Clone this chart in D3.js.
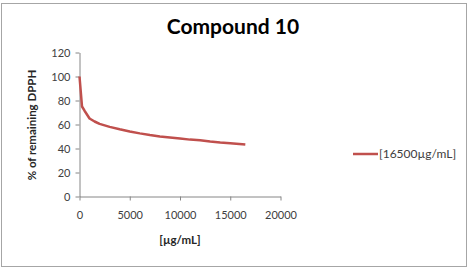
<!DOCTYPE html>
<html>
<head>
<meta charset="utf-8">
<script src="https://cdn.jsdelivr.net/npm/d3@7"></script>
<style>
  body { margin: 0; background: #fff; }
  svg { display: block; font-family: Lato, "Open Sans", sans-serif; }
  .axis path, .axis line { stroke: #868686; }
  .axis text { fill: #404040; font-size: 11px; }
</style>
</head>
<body>
<svg id="chart" width="469" height="268"></svg>
<script>
// concentration (µg/mL) and % of remaining DPPH
var conc = [0, 250, 500, 1000, 1500, 2000, 3000, 4000, 5000, 6000, 7000, 8000, 9000, 10000, 11000, 12000, 13000, 14000, 15000, 16500];
var remaining = [100, 75, 71.5, 65, 62.5, 60.5, 58, 56, 54.2, 52.6, 51.2, 50, 49.2, 48.4, 47.4, 46.8, 45.8, 45, 44.4, 43.4];
var xTicks = [0, 5000, 10000, 15000, 20000];
var yTicks = [0, 20, 40, 60, 80, 100, 120];
var seriesName = "[16500µg/mL]";

var svg = d3.select("#chart");
var width = +svg.attr("width"),
    height = +svg.attr("height");

// outer frame
svg.append("rect")
    .attr("x", 1.5).attr("y", 3.5)
    .attr("width", width - 4).attr("height", height - 5)
    .attr("fill", "none")
    .attr("stroke", "#a6a6a6");

var x = d3.scaleLinear().domain([0, 20000]).range([79.5, 280.5]);
var y = d3.scaleLinear().domain([0, 120]).range([196.5, 52.5]);

svg.append("g")
    .attr("class", "axis")
    .attr("transform", "translate(0," + y(0) + ")")
    .call(d3.axisBottom(x).tickValues(xTicks).tickFormat(d3.format("d")).tickSize(4).tickSizeOuter(0).tickPadding(11));

svg.append("g")
    .attr("class", "axis")
    .attr("transform", "translate(" + x(0) + ",0)")
    .call(d3.axisLeft(y).tickValues(yTicks).tickSize(4).tickSizeOuter(0).tickPadding(5));

svg.selectAll(".axis").attr("font-family", null).attr("font-size", null);

// the curve
var line = d3.line()
    .x(function(d, i){ return x(conc[i]); })
    .y(function(d){ return y(d); });

svg.append("path")
    .datum(remaining)
    .attr("d", line)
    .attr("fill", "none")
    .attr("stroke", "#c0504d")
    .attr("stroke-width", 2.5)
    .attr("stroke-linejoin", "round");

// title and axis labels
svg.append("text")
    .attr("x", 233).attr("y", 34)
    .attr("text-anchor", "middle")
    .attr("font-size", 21).attr("font-weight", "bold")
    .attr("fill", "#000")
    .text("Compound 10");

svg.append("text")
    .attr("transform", "translate(36,125) rotate(-90)")
    .attr("text-anchor", "middle")
    .attr("font-size", 11.5).attr("font-weight", "bold")
    .attr("fill", "#262626")
    .text("% of remaining DPPH");

svg.append("text")
    .attr("x", 180).attr("y", 244)
    .attr("text-anchor", "middle")
    .attr("font-size", 11.5).attr("font-weight", "bold")
    .attr("fill", "#262626")
    .text("[µg/mL]");

// legend
var legend = svg.append("g").attr("transform", "translate(353,154)");
legend.append("line")
    .attr("x1", 0).attr("x2", 25)
    .attr("stroke", "#c0504d").attr("stroke-width", 2.5);
legend.append("text")
    .attr("x", 26).attr("y", 4)
    .attr("font-size", 12)
    .attr("fill", "#404040")
    .text(seriesName);
</script>
</body>
</html>
